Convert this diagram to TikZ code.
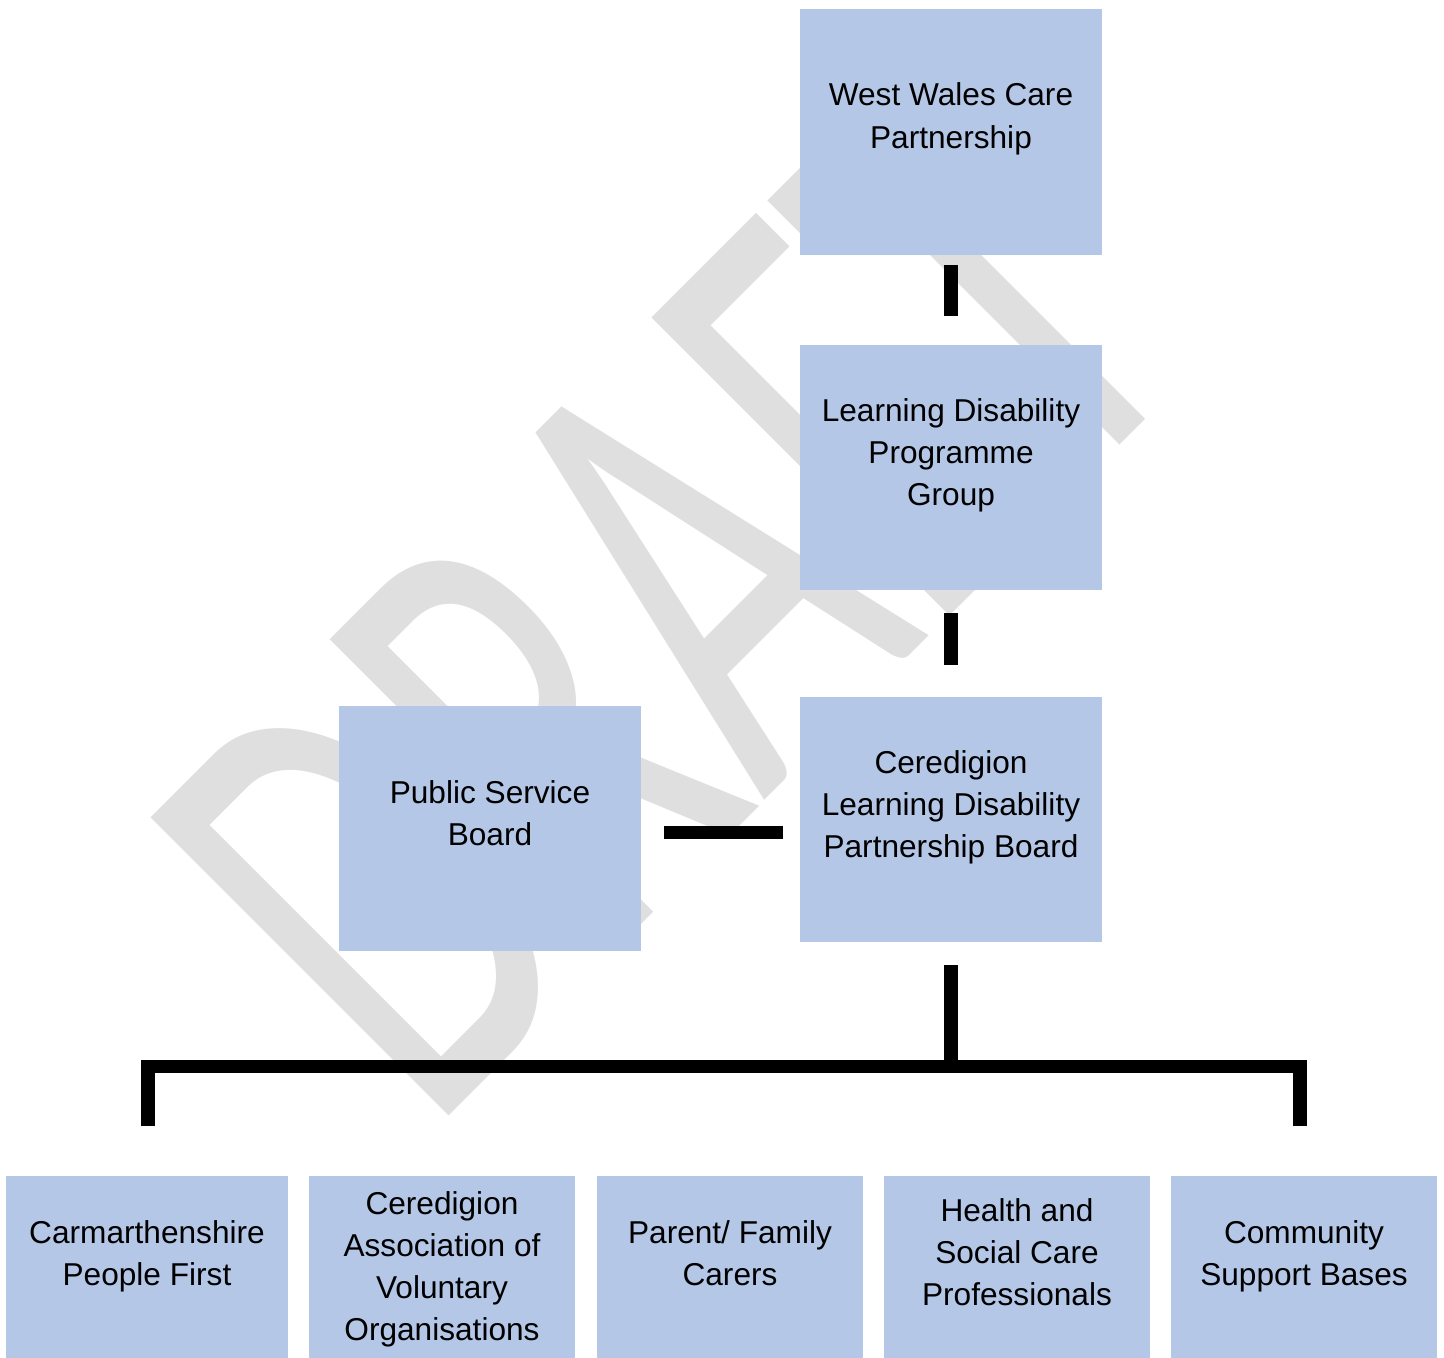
\documentclass[tikz,border=0pt]{standalone}
\usepackage{fontspec}
\setmainfont{Liberation Sans}
\newfontfamily\wmfont{Carlito}
\definecolor{boxblue}{HTML}{B4C7E7}
\definecolor{wmgray}{HTML}{DFDFDF}
\begin{document}
\begin{tikzpicture}[x=0.02cm, y=0.02cm,
  box/.style={rectangle, fill=boxblue, inner sep=0pt, align=center,
    font=\fontsize{18pt}{24pt}\selectfont, text depth=0pt},
  bigbox/.style={box, minimum width=6.04cm, minimum height=4.9cm},
  lowbox/.style={box, minimum width=5.32cm, minimum height=3.64cm},
  conn/.style={line width=7.8pt, black, line join=miter}]
\useasboundingbox (0,0) rectangle (1444,1358);
% watermark
\begin{scope}[shift={(784.9,573.1)}, rotate=45]
  \node[transform shape, anchor=base west, inner sep=0pt, xscale=2.32, yscale=3.74,
        text=wmgray, font=\wmfont\fontsize{100pt}{100pt}\selectfont] (draft) at (-500,3) {DRAFT};
\end{scope}
% boxes
\node[bigbox, minimum height=4.92cm, text height=18.4pt] (wwcp) at (951,1226) {West Wales Care\\Partnership};
\node[bigbox, text height=43.7pt] (ldpg) at (951,890.5) {Learning Disability\\Programme\\Group};
\node[bigbox, text height=43.1pt] (cldpb) at (951,538.5) {Ceredigion\\Learning Disability\\Partnership Board};
\node[bigbox, text height=19pt] (psb) at (490,529.5) {Public Service\\Board};
\node[lowbox, minimum width=5.64cm, text height=20.7pt] (carm) at (147,91) {Carmarthenshire\\People First};
\node[lowbox, text height=83.8pt] (cavo) at (442,91) {Ceredigion\\Association of\\Voluntary\\Organisations};
\node[lowbox, text height=20.7pt] (parent) at (730,91) {Parent/ Family\\Carers};
\node[lowbox, text height=43.7pt] (health) at (1017,91) {Health and\\Social Care\\Professionals};
\node[lowbox, text height=20.7pt] (comm) at (1304,91) {Community\\Support Bases};
% connectors
\coordinate (bus) at (951,291.5);
\coordinate (psbr) at ([yshift=-0.08cm]psb.east);
\coordinate (commtop) at ([xshift=-0.08cm]comm.north);
\coordinate (carmtop) at ([xshift=0.02cm]carm.north);
\draw[conn, shorten <=0.2cm, shorten >=0.58cm] (wwcp.south) -- (ldpg.north);
\draw[conn, shorten <=0.46cm, shorten >=0.64cm] (ldpg.south) -- (cldpb.north);
\draw[conn, shorten <=0.46cm, shorten >=0.34cm] (psbr) -- (psbr -| cldpb.west);
\draw[conn, shorten <=0.46cm] (cldpb.south) -- (bus);
\draw[conn, shorten <=1cm, shorten >=1cm] (carmtop) |- (bus) -| (commtop);
\end{tikzpicture}
\end{document}
